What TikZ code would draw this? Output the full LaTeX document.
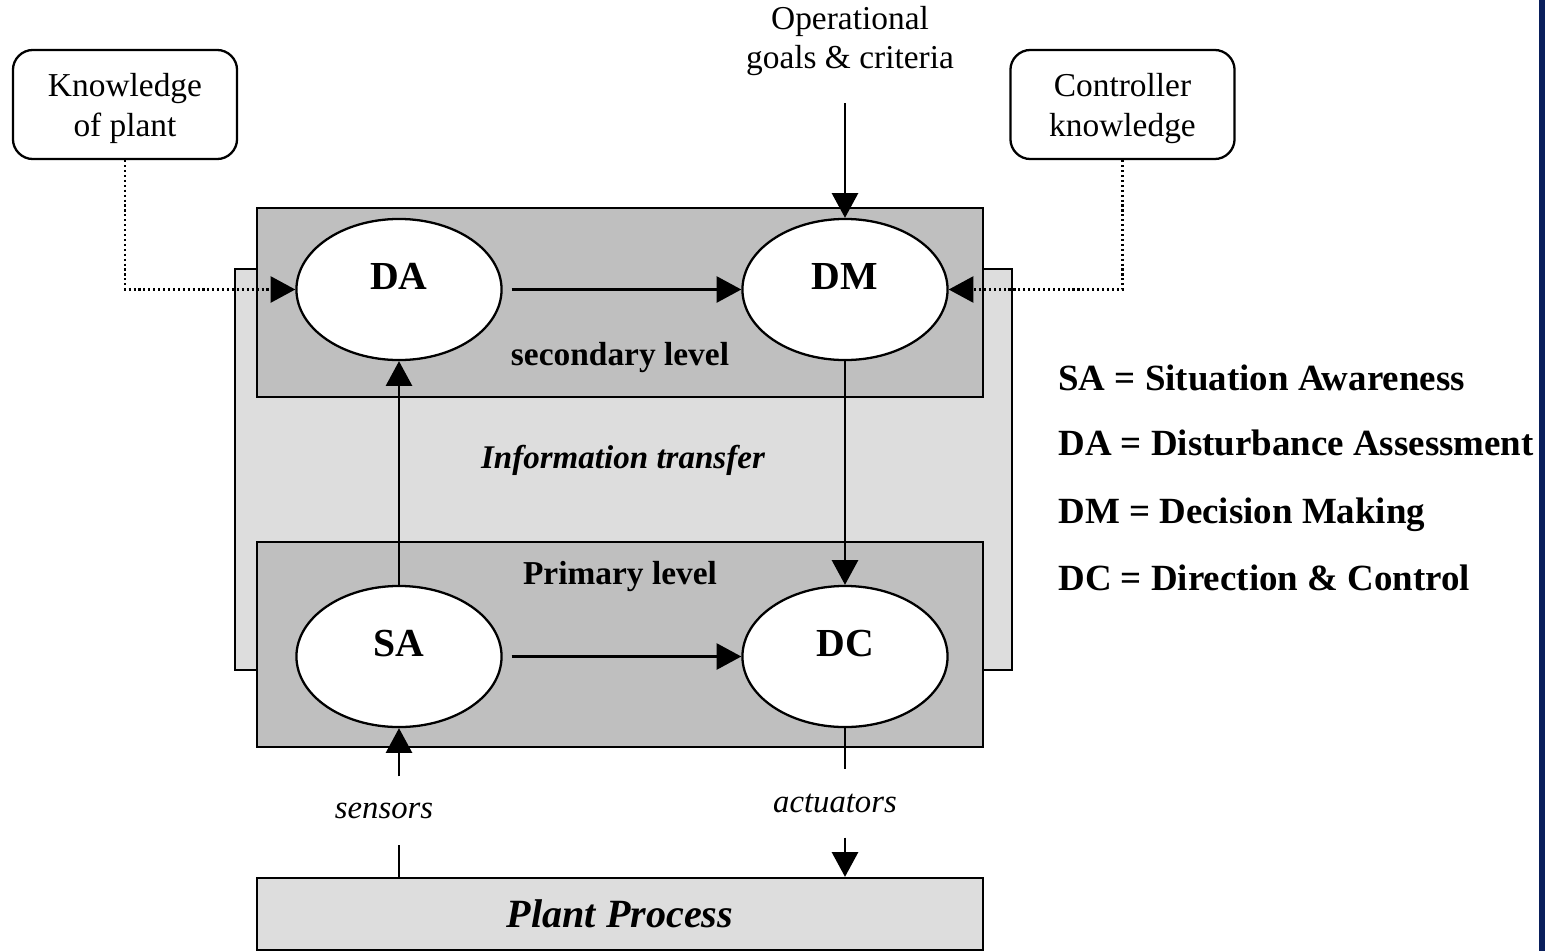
\documentclass[tikz,border=0pt]{standalone}
\usepackage{fontspec}
\setmainfont{Liberation Serif}
\usetikzlibrary{arrows.meta,shapes.geometric,positioning}

\definecolor{darkpanel}{gray}{0.75}
\definecolor{lightpanel}{gray}{0.866}
\definecolor{edgeblue}{RGB}{10,31,92}

\tikzset{
  arr/.style={-{Triangle[length=7pt,width=7.4pt]}, line width=0.65pt},
  dotline/.style={line width=0.65pt, dash pattern=on 0.6pt off 0.8pt,
                  -{Triangle[length=7pt,width=7.4pt]}},
  func/.style={ellipse, draw, fill=white, line width=0.65pt,
               minimum width=2.05cm, minimum height=1.41cm, inner sep=0pt,
               font=\fontsize{11.3}{12}\selectfont\bfseries,
               text height=8pt, text depth=8pt},
  knowbox/.style={draw, rounded corners=0.2cm, line width=0.65pt,
                  minimum width=2.24cm, minimum height=1.09cm, align=center,
                  font=\fontsize{9.5}{11.2}\selectfont,
                  text height=19pt, text depth=1pt},
  levellabel/.style={font=\fontsize{9.5}{11}\selectfont\bfseries},
  signal/.style={font=\fontsize{9.3}{11}\selectfont\itshape, minimum height=0.67cm},
  legend/.style={anchor=base west, font=\fontsize{10.5}{12}\selectfont\bfseries}
}

\begin{document}
\begin{tikzpicture}[x=0.01cm, y=-0.01cm]
        \useasboundingbox (0,0) rectangle (1545,951);
        \fill[edgeblue] (1539,0) rectangle (1545,951);

        % panels
        \filldraw[draw=black, fill=lightpanel, line width=0.65pt] (235,269) rectangle (1012,670);
        \filldraw[draw=black, fill=darkpanel, line width=0.65pt] (257,208) rectangle (983,397);
        \filldraw[draw=black, fill=darkpanel, line width=0.65pt] (257,542) rectangle (983,747);

        \node[func] (DA) at (399,289.5) {DA};
        \node[func] (DM) at (845,289.5) {DM};
        \node[func] (SA) at (399,656.5) {SA};
        \node[func] (DC) at (845,656.5) {DC};

        \node[levellabel] (seclvl) at (620,358) {secondary level};
        \node[levellabel] (primlvl) at (620,577) {Primary level};
        \node[levellabel, font=\fontsize{9.4}{11}\selectfont\bfseries\itshape] (info) at (623,460) {Information transfer};

        \node[knowbox] (plantknow) at (125,104.5) {Knowledge\\of plant};
        \node[knowbox] (ctrlknow) at (1122.5,104.5) {Controller\\knowledge};
        \node[align=center, font=\fontsize{9.5}{11.2}\selectfont] (goals) at (850,41) {Operational\\goals \& criteria};

        \node[draw, fill=lightpanel, line width=0.65pt, minimum width=7.26cm, minimum height=0.72cm,
              font=\fontsize{11.4}{13}\selectfont\bfseries\itshape] (plant) at (620,914) {Plant Process};
        \node[signal] (sens) at (384,810.5) {sensors};
        \node[signal] (act) at (835,803.5) {actuators};

        % connectors
        \draw[arr, shorten <=0.09cm] (DA) -- (DM);
        \draw[arr, shorten <=0.09cm] (SA) -- (DC);
        \draw[arr] (SA) -- (DA);
        \draw[arr] (DM) -- (DC);
        \draw[arr, shorten <=0.15cm] (goals.south -| DM.north) -- (DM.north);
        \draw[dotline] (plantknow.south) |- (DA.west);
        \draw[dotline] (ctrlknow.south) |- (DM.east);
        \draw[line width=0.65pt] (plant.north -| SA.south) -- (sens.south -| SA.south);
        \draw[arr] (sens.north -| SA.south) -- (SA.south);
        \draw[line width=0.65pt] (DC.south) -- (act.north -| DC.south);
        \draw[arr] (act.south -| DC.south) -- (plant.north -| DC.south);

        \node[legend] (lgsa) at (1046,390) {SA = Situation Awareness};
        \node[legend] (lgda) at (1046,455) {DA = Disturbance Assessment};
        \node[legend] (lgdm) at (1046,523) {DM = Decision Making};
        \node[legend] (lgdc) at (1046,590) {DC = Direction \& Control};
    \end{tikzpicture}
\end{document}
